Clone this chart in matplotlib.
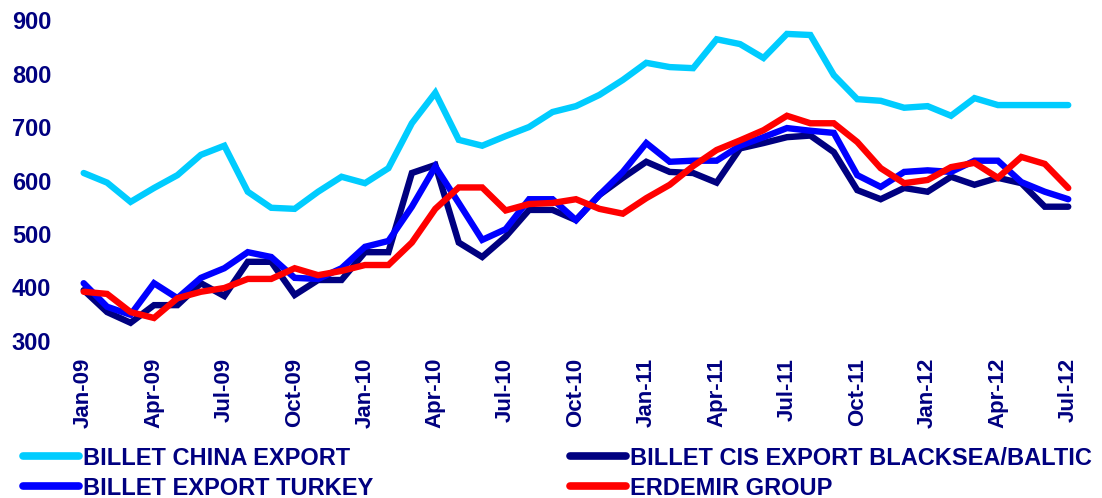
import matplotlib
matplotlib.use("Agg")
import matplotlib.pyplot as plt
import numpy as np

months = ["Jan-09","Feb-09","Mar-09","Apr-09","May-09","Jun-09","Jul-09","Aug-09","Sep-09","Oct-09","Nov-09","Dec-09",
          "Jan-10","Feb-10","Mar-10","Apr-10","May-10","Jun-10","Jul-10","Aug-10","Sep-10","Oct-10","Nov-10","Dec-10",
          "Jan-11","Feb-11","Mar-11","Apr-11","May-11","Jun-11","Jul-11","Aug-11","Sep-11","Oct-11","Nov-11","Dec-11",
          "Jan-12","Feb-12","Mar-12","Apr-12","May-12","Jun-12","Jul-12"]

china = [614, 596, 560, 586, 610, 648, 665, 579, 549, 547, 579, 607,
         595, 623, 707, 764, 676, 665, 683, 700, 728, 739, 760, 788,
         820, 812, 810, 864, 855, 829, 874, 872, 797, 752, 749, 736,
         739, 721, 754, 741, 741, 741, 741]
cis = [395, 354, 334, 367, 367, 408, 384, 448, 448, 386, 414, 414,
       466, 466, 614, 629, 484, 457, 495, 545, 545, 526, 573, 605,
       635, 616, 614, 596, 660, 670, 681, 684, 653, 582, 565, 586,
       579, 607, 592, 605, 595, 551, 551]
turkey = [408, 364, 349, 408, 380, 418, 436, 466, 457, 418, 416, 436,
          476, 487, 551, 626, 558, 489, 509, 565, 565, 526, 573, 616,
          670, 635, 637, 637, 665, 681, 698, 693, 689, 610, 588, 616,
          619, 616, 637, 637, 597, 579, 565]
erdemir = [392, 388, 354, 343, 380, 392, 399, 416, 416, 436, 423, 431,
           442, 442, 484, 547, 587, 587, 544, 556, 558, 565, 547, 538,
           567, 592, 627, 657, 675, 694, 721, 707, 707, 672, 623, 595,
           601, 625, 633, 605, 644, 631, 586]

names = ["BILLET CHINA EXPORT", "BILLET CIS EXPORT BLACKSEA/BALTIC",
         "BILLET EXPORT TURKEY", "ERDEMIR GROUP"]
colors = ["#00CCFF", "#000080", "#0000FF", "#FF0000"]
yticks = [300, 400, 500, 600, 700, 800, 900]

txt = "#000080"
plt.rcParams['font.family'] = ['Liberation Sans', 'DejaVu Sans']

fig = plt.figure(figsize=(11.02, 4.98), dpi=100)
ax = fig.add_axes([0.0653, 0.3153, 0.9147, 0.6445])
x = np.arange(len(months))
series = [china, cis, turkey, erdemir]
lines = []
for s, c, n in zip(series, colors, names):
    ln, = ax.plot(x, s, color=c, lw=4.6, label=n, solid_capstyle='round', solid_joinstyle='miter')
    lines.append(ln)

ax.set_xlim(-0.5, len(months) - 0.5)
ax.set_ylim(300, 900)
ax.set_yticks(yticks)
ax.set_yticklabels([str(v) for v in yticks], fontsize=17, fontweight='bold', color=txt)
ax.set_xticks(x[::3])
ax.set_xticklabels(months[::3], rotation=90, fontsize=16, fontweight='bold', color=txt)
ax.tick_params(axis='both', length=0)
ax.tick_params(axis='y', pad=15)
ax.tick_params(axis='x', pad=12)
for sp in ax.spines.values():
    sp.set_visible(False)

order = [0, 2, 1, 3]
leg = fig.legend([lines[i] for i in order], [names[i] for i in order], ncol=2,
                 loc='center left', bbox_to_anchor=(0.021, 0.050), frameon=False,
                 prop={'size': 17, 'weight': 'bold'}, handlelength=2.35, handletextpad=0.17,
                 columnspacing=8.35, labelspacing=0.3, borderaxespad=0, borderpad=0)
for t in leg.get_texts():
    t.set_color(txt)
for h in leg.legend_handles:
    h.set_linewidth(5.5)

fig.savefig("out.png", dpi=100)
